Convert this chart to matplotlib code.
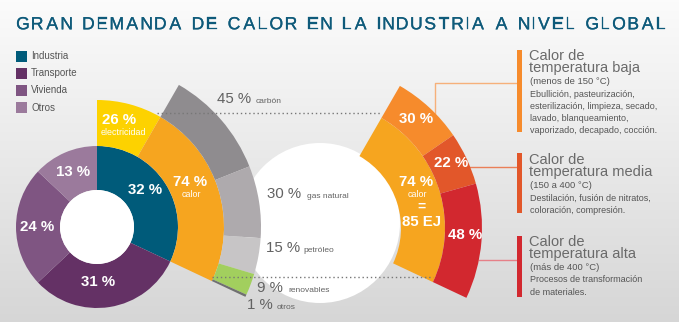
import numpy as np
import matplotlib
matplotlib.use('Agg')
import matplotlib.pyplot as plt
import matplotlib.patheffects as pe
from matplotlib.patches import Wedge, Circle, Rectangle
from matplotlib.font_manager import FontProperties
from matplotlib.textpath import TextPath

plt.rcParams['font.family'] = ['Liberation Sans', 'DejaVu Sans']

# demanda final de energía por sector
sectors = ['Industria', 'Transporte', 'Vivienda', 'Otros']
sector_share = [32, 31, 24, 13]
sector_colors = ['#005b7a', '#643165', '#7f5582', '#9b7a9c']

# uso dentro de la industria
industry_use = ['electricidad', 'calor']
industry_use_share = [26, 74]
industry_use_colors = ['#fdd200', '#f6a51f']

# fuentes del calor industrial
fuels = ['carbón', 'gas natural', 'petróleo', 'renovables', 'otros']
fuel_share = [45, 30, 15, 9, 1]
fuel_colors = ['#8f8c8f', '#aeaaad', '#c7c5c6', '#a2cf5e', '#707070']

# calor por nivel de temperatura
heat_levels = ['baja', 'media', 'alta']
heat_level_share = [30, 22, 48]
heat_level_colors = ['#f68b2c', '#e2572a', '#d2282f']
heat_level_range = ['(menos de 150 °C)', '(150 a 400 °C)', '(más de 400 °C)']
heat_level_uses = [
    ['Ebullición, pasteurización,', 'esterilización, limpieza, secado,',
     'lavado, blanqueamiento,', 'vaporizado, decapado, cocción.'],
    ['Destilación, fusión de nitratos,', 'coloración, compresión.'],
    ['Procesos de transformación', 'de materiales.'],
]
heat_total = '85 EJ'

title = 'GRAN DEMANDA DE CALOR EN LA INDUSTRIA A NIVEL GLOBAL'

W, H = 679, 322
fig = plt.figure(figsize=(W / 100, H / 100), dpi=100)
ax = fig.add_axes([0, 0, 1, 1])
ax.set_xlim(0, W)
ax.set_ylim(H, 0)
ax.axis('off')

# fondo degradado
grad = np.linspace(0.985, 0.84, 256)[:, None]
ax.imshow(np.dstack([grad, grad, grad]), extent=[0, W, H, 0], aspect='auto', zorder=0)


def ring(center, r_out, r_in, c1, c2, color, z=2):
    # ángulos medidos en sentido horario desde arriba
    ax.add_patch(Wedge(center, r_out, c1 - 90, c2 - 90, width=r_out - r_in,
                       fc=color, ec='none', zorder=z))


GREY = '#626262'
L = (97, 227)
R_HOLE, R1, R2, R3 = 37, 81, 127, 164

# anillo de sectores
bounds = np.cumsum([0] + sector_share) / 100 * 360
for i, c in enumerate(sector_colors):
    ring(L, R1, R_HOLE, bounds[i], bounds[i + 1], c)
ax.add_patch(Circle(L, R_HOLE, fc='white', ec='none', zorder=3))

# electricidad / calor dentro de la industria
ind_end = bounds[1]
use_bounds = np.cumsum([0] + industry_use_share) / 100 * ind_end
for i, c in enumerate(industry_use_colors):
    ring(L, R2, R1, use_bounds[i], use_bounds[i + 1], c)
heat_a0, heat_a1 = use_bounds[1], use_bounds[2]

# círculo blanco central
ax.add_patch(Circle((320, 223), 80, fc='white', ec='none', zorder=1))

# fuentes del calor
fuel_bounds = heat_a0 + np.cumsum([0] + fuel_share) / 100 * (heat_a1 - heat_a0)
for i, c in enumerate(fuel_colors):
    ring(L, R3, R2, fuel_bounds[i], fuel_bounds[i + 1], c)

# abanico derecho: calor por temperatura
F = (318, 228)
ring(F, R2, 83, heat_a0, heat_a1, industry_use_colors[1], z=4)
lvl_bounds = heat_a0 + np.cumsum([0] + heat_level_share) / 100 * (heat_a1 - heat_a0)
for i, c in enumerate(heat_level_colors):
    ring(F, R3, R2, lvl_bounds[i], lvl_bounds[i + 1], c, z=4)

# líneas punteadas
ax.plot([157, 380], [113, 113], ls=(0, (1, 2)), color='#777777', lw=1, zorder=5)
ax.plot([212, 433], [277, 277], ls=(0, (1, 2)), color='#777777', lw=1, zorder=5)

# conectores y barras de la derecha
ax.plot([435, 435, 517], [132, 83, 83], color='#f6b07a', lw=1, zorder=3)
ax.plot([470, 517], [167, 167], color='#ea7f58', lw=1, zorder=3)
ax.plot([479, 517], [260, 260], color='#e68088', lw=1, zorder=3)
bars = [(50, 132), (153, 213), (236, 297)]
for (y0, y1), c in zip(bars, heat_level_colors):
    ax.add_patch(Rectangle((517, y0), 5, y1 - y0, fc=c, ec='none', zorder=3))

# textos de la derecha
head_y = [56, 160, 242]
for k in range(3):
    y = head_y[k]
    ax.text(529, y + 6, 'Calor de\ntemperatura ' + heat_levels[k], fontsize=10.5,
            color='#6a6a6a', va='center', linespacing=0.75, zorder=6)
    ax.text(530, y + 25.5, heat_level_range[k], fontsize=6.8, color='#555555', va='center', zorder=6)
    for j, line in enumerate(heat_level_uses[k]):
        ax.text(530, y + 38 + 12.3 * j, line, fontsize=6.5, color='#555555', va='center', zorder=6)

# etiquetas de los anillos
wkw = dict(color='white', ha='center', va='center', zorder=6)
ax.text(145, 190, f'{sector_share[0]} %', fontsize=10.8, weight='bold', **wkw)
ax.text(98, 282, f'{sector_share[1]} %', fontsize=10.8, weight='bold', **wkw)
ax.text(37, 227, f'{sector_share[2]} %', fontsize=10.8, weight='bold', **wkw)
ax.text(73, 172, f'{sector_share[3]} %', fontsize=10.8, weight='bold', **wkw)
ax.text(119, 120, f'{industry_use_share[0]} %', fontsize=10.8, weight='bold', **wkw)
ax.text(123, 132, industry_use[0], fontsize=6.4, **wkw)
ax.text(190, 182, f'{industry_use_share[1]} %', fontsize=10.8, weight='bold', **wkw)
ax.text(191, 194, industry_use[1], fontsize=6.4, **wkw)

ax.text(416, 119, f'{heat_level_share[0]} %', fontsize=10.8, weight='bold', **wkw)
ax.text(451, 163, f'{heat_level_share[1]} %', fontsize=10.8, weight='bold', **wkw)
ax.text(465, 235, f'{heat_level_share[2]} %', fontsize=10.8, weight='bold', **wkw)
ax.text(416, 182, f'{industry_use_share[1]} %', fontsize=10.8, weight='bold', **wkw)
ax.text(417, 194, industry_use[1], fontsize=6.4, **wkw)
ax.text(421, 207, '=', fontsize=10, weight='bold', **wkw)
ax.text(422, 222, heat_total, fontsize=10.8, weight='bold', **wkw)

fuel_pos = [(217, 99, 256), (267, 194, 307), (266, 248, 303), (257, 288, 288), (247, 305, 277)]
for (x, y, xs), v, name in zip(fuel_pos, fuel_share, fuels):
    ax.text(x, y, f'{v} %', fontsize=10.8, color=GREY, va='center', zorder=6)
    ax.text(xs, y + 2.5, name, fontsize=6.0, color=GREY, va='center', zorder=6)

# leyenda
for i, (name, c) in enumerate(zip(sectors, sector_colors)):
    y = 56 + 17.2 * i
    ax.add_patch(Rectangle((16, y - 5.5), 11, 11, fc=c, ec='none', zorder=3))
    ax.text(31, y, name, fontsize=7.0, color='#555555', va='center', zorder=6)

# título con espaciado entre letras
fs_px = 17.6
fp = FontProperties(family='Liberation Sans', size=fs_px)
title_color = '#0e5a7a'
widths = []
for ch in title:
    if ch == ' ':
        widths.append(0.25 * fs_px)
    else:
        ext = TextPath((0, 0), ch, prop=fp).get_extents()
        widths.append(ext.width)
x0, x1 = 17, 665
gap = (x1 - x0 - sum(widths)) / (len(title) - 1)
x = x0
for ch, w in zip(title, widths):
    if ch != ' ':
        ext = TextPath((0, 0), ch, prop=fp).get_extents()
        ax.text(x - ext.x0, 29.3, ch, fontsize=fs_px * 0.72, family='Liberation Sans',
                color=title_color, ha='left', va='baseline', zorder=6,
                path_effects=[pe.withStroke(linewidth=0.2, foreground=title_color)])
    x += w + gap

fig.savefig('out.png', dpi=100)
